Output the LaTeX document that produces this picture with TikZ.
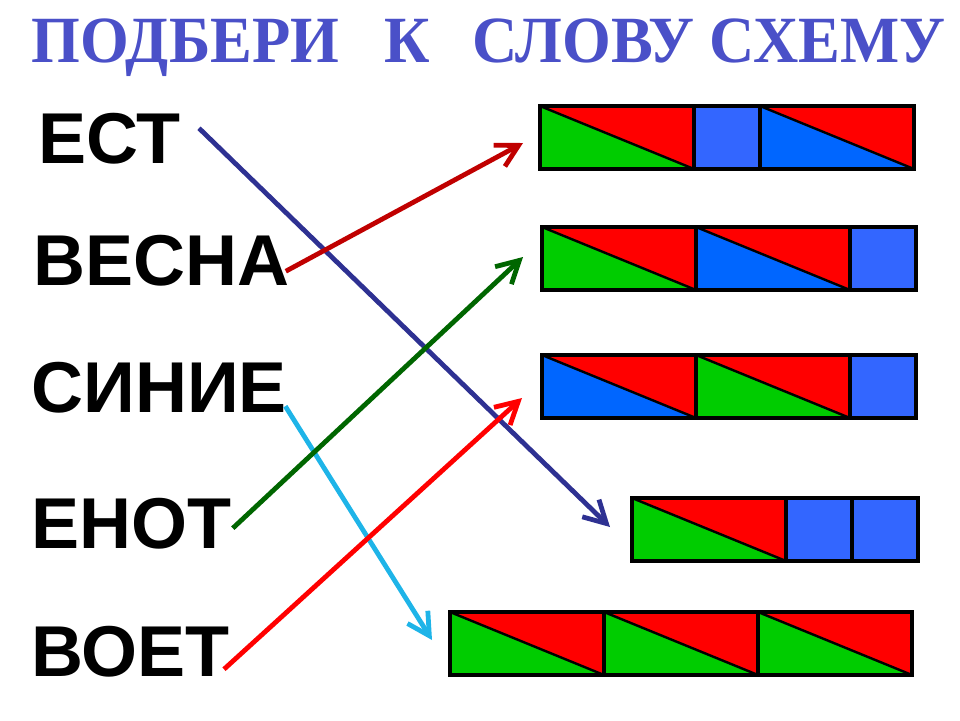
\documentclass[tikz,border=0pt]{standalone}
\usepackage{fontspec}
\setmainfont{Liberation Serif}
\newfontfamily\wordfont{Liberation Sans}
\usetikzlibrary{arrows.meta,calc}

\definecolor{vowelred}{HTML}{FF0000}
\definecolor{hardblue}{HTML}{0066FF}
\definecolor{softgreen}{HTML}{00CC00}
\definecolor{soundblue}{HTML}{3366FF}
\definecolor{titleblue}{HTML}{4A50C8}
\definecolor{navyline}{HTML}{2E3192}
\definecolor{darkredline}{HTML}{C00000}
\definecolor{skyline}{HTML}{1EB4E8}
\definecolor{darkgreenline}{HTML}{006600}
\definecolor{redline}{HTML}{FF0000}

\tikzset{
  cellborder/.style={draw=black, line width=2pt},
  diag/.style={draw=black, line width=1.2pt},
  word/.style={font=\wordfont\bfseries\fontsize{36}{40}\selectfont, inner sep=0pt, anchor=base west},
  link/.style={line width=2.4pt, -{Straight Barb[length=11pt,width=12pt]}},
}

% syllable cell: top-left x, top-left y, consonant colour
\newcommand{\slog}[3]{%
  \fill[vowelred] (#1,#2) rectangle ++(154,63);
  \fill[#3] (#1,#2) -- ++(154,63) -- ++(-154,0) -- cycle;
  \draw[diag] (#1,#2) -- ++(154,63);
  \draw[cellborder] (#1,#2) rectangle ++(154,63);}
% single sound cell: top-left x, top-left y
\newcommand{\zvuk}[2]{%
  \fill[soundblue] (#1,#2) rectangle ++(66,63);
  \draw[cellborder] (#1,#2) rectangle ++(66,63);}

\begin{document}
\begin{tikzpicture}[x=0.5pt,y=-0.5pt]
	\useasboundingbox (0,0) rectangle (960,720);

	\node[font=\bfseries\fontsize{33}{36}\selectfont, text=titleblue, inner sep=0pt, anchor=base west] (title) at (31,62)
		{\scalebox{0.95}[1]{ПОДБЕРИ\hspace{24pt}К\hspace{22pt}СЛОВУ\ СХЕМУ}};

	\node[word] (w1) at (38,163) {ЕСТ};
	\node[word] (w2) at (33,285) {ВЕСНА};
	\node[word] (w3) at (31,412) {СИНИЕ};
	\node[word] (w4) at (31,548) {ЕНОТ};
	\node[word] (w5) at (31,676) {ВОЕТ};

	%% schemes
	\slog{540}{106}{softgreen} \zvuk{694}{106} \slog{760}{106}{hardblue}
	\slog{542}{227}{softgreen} \slog{696}{227}{hardblue} \zvuk{850}{227}
	\slog{542}{355}{hardblue} \slog{696}{355}{softgreen} \zvuk{850}{355}
	\slog{632}{498}{softgreen} \zvuk{786}{498} \zvuk{852}{498}
	\slog{450}{612}{softgreen} \slog{604}{612}{softgreen} \slog{758}{612}{softgreen}

	\coordinate (s1) at (523,143);
	\coordinate (s2) at (523,257);
	\coordinate (s3) at (522,398);
	\coordinate (s4) at (610,527);
	\coordinate (s5) at (432,640);

	%% lines
	\draw[link, navyline] ($(w1.east)+(18,-10)$) -- (s4);
	\draw[link, darkredline] ($(w2.east)+(-4,11)$) -- (s1);
	\draw[link, skyline] ($(w3.east)+(-2,19)$) -- (s5);
	\draw[link, darkgreenline] ($(w4.east)+(1,5)$) -- (s2);
	\draw[link, redline] ($(w5.east)+(-6,18)$) -- (s3);
\end{tikzpicture}
\end{document}
